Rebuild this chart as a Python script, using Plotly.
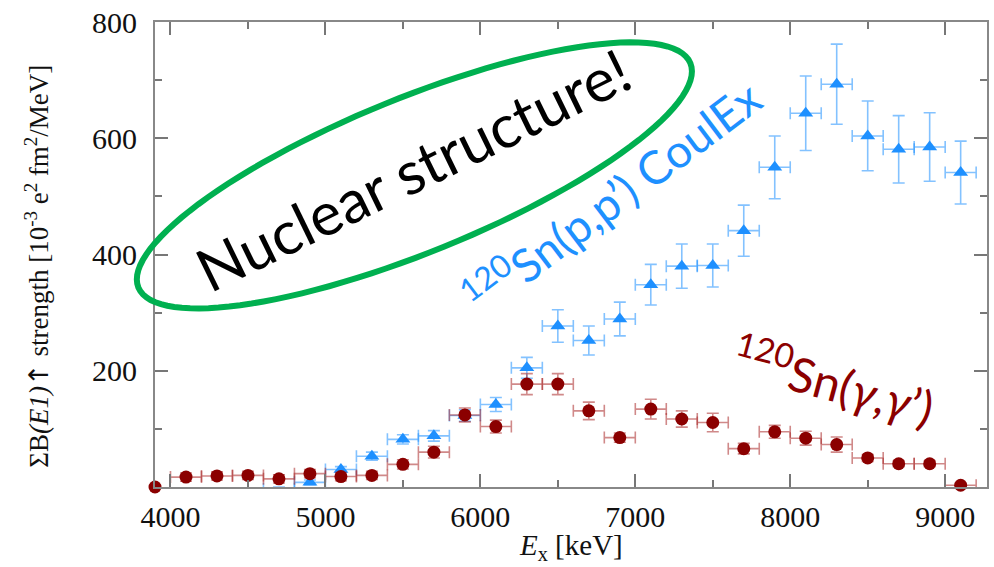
import numpy as np
import plotly.graph_objects as go

# ---------------- data ----------------
ex_gamma = [3900, 4100, 4300, 4500, 4700, 4900, 5100, 5300, 5500, 5700, 5900, 6100, 6300, 6500,
            6700, 6900, 7100, 7300, 7500, 7700, 7900, 8100, 8300, 8500, 8700, 8900, 9100]
b_gamma = [0, 17, 19, 20, 14, 23, 18, 20, 39, 60, 124, 104, 177, 177,
           131, 85, 134, 117, 111, 66, 95, 84, 73, 50, 40, 40, 3]
db_gamma = [3, 7, 7, 7, 7, 7, 7, 7, 8, 10, 12, 11, 18, 18,
            15, 8, 17, 14, 16, 9, 11, 12, 13, 6, 5, 5, 3]
dex_gamma = [0] + [100] * 26

ex_pp = [4700, 4900, 5100, 5300, 5500, 5700, 5900, 6100, 6300, 6500, 6700, 6900,
         7100, 7300, 7500, 7700, 7900, 8100, 8300, 8500, 8700, 8900, 9100]
b_pp = [-3, 8, 30, 53, 82, 88, 123, 142, 205, 277, 252, 289,
        348, 380, 381, 441, 550, 643, 693, 604, 581, 585, 541]
db_pp = [3, 4, 5, 7, 8, 9, 10, 12, 18, 28, 25, 29,
         35, 38, 37, 44, 54, 64, 69, 60, 58, 59, 54]
dex_pp = [100] * 23

x_ticks = [4000, 5000, 6000, 7000, 8000, 9000]
y_ticks = [200, 400, 600, 800]
x_range = [3900, 9270]
y_range = [0, 800]

# ---------------- layout geometry (pixels) ----------------
W, H = 994, 567
ML, MR, MT, MB = 155, 5, 17, 80
PW, PH = W - ML - MR, H - MT - MB


def px2paper(px, py):
    return (px - ML) / PW, (H - MB - py) / PH


serif = "Liberation Serif"
sans = "Lato"

fig = go.Figure()

fig.add_trace(go.Scatter(
    x=ex_pp, y=b_pp, mode="markers",
    marker=dict(symbol="triangle-up", size=13, color="#1E90FF"),
    error_y=dict(type="data", array=db_pp, color="rgba(30,144,255,0.55)", thickness=1.6, width=6),
    error_x=dict(type="data", array=dex_pp, color="rgba(30,144,255,0.55)", thickness=1.6, width=6),
    cliponaxis=True, showlegend=False,
))

fig.add_trace(go.Scatter(
    x=ex_gamma, y=b_gamma, mode="markers",
    marker=dict(symbol="circle", size=13, color="#8B0000"),
    error_y=dict(type="data", array=db_gamma, color="rgba(170,40,40,0.55)", thickness=1.6, width=6),
    error_x=dict(type="data", array=dex_gamma, color="rgba(170,40,40,0.55)", thickness=1.6, width=6),
    cliponaxis=False, showlegend=False,
))

axis_common = dict(
    showline=True, linecolor="#888", linewidth=2, mirror="ticks",
    ticks="inside", ticklen=13, tickwidth=1.5, tickcolor="#777",
    showgrid=False, zeroline=False,
    tickfont=dict(family=serif, size=30, color="#111"),
)

fig.update_xaxes(range=x_range, tickvals=x_ticks, ticktext=[str(v) for v in x_ticks],
                 minor=dict(ticks="inside", ticklen=7, tickwidth=1.5, tickcolor="#777", dtick=500, tick0=0),
                 ticklabelstandoff=2, **axis_common)
fig.update_yaxes(range=y_range, tickvals=y_ticks, ticktext=[str(v) for v in y_ticks],
                 minor=dict(ticks="inside", ticklen=7, tickwidth=1.5, tickcolor="#777", dtick=100, tick0=0),
                 ticklabelstandoff=10, **axis_common)

annotations = []
# axis titles
xt, yt = px2paper(572, 548)
annotations.append(dict(text="<i>E</i><sub>x</sub> [keV]", xref="paper", yref="paper", x=xt, y=yt,
                        xanchor="center", yanchor="middle", showarrow=False,
                        font=dict(family=serif, size=29, color="#111")))
xt, yt = px2paper(37, 264)
annotations.append(dict(text="ΣB<i>(E1)</i><span style='font-family:DejaVu Sans'>↑</span> strength "
                             "[10<sup>-3</sup> e<sup>2</sup> fm<sup>2</sup>/MeV]",
                        xref="paper", yref="paper", x=xt, y=yt, textangle=-90,
                        xanchor="center", yanchor="middle", showarrow=False,
                        font=dict(family=serif, size=27, color="#111")))
# overlay texts
xt, yt = px2paper(414, 166)
annotations.append(dict(text="Nuclear structure!", xref="paper", yref="paper", x=xt, y=yt, textangle=-26,
                        xanchor="center", yanchor="middle", showarrow=False,
                        font=dict(family=sans, size=60, color="black")))
xt, yt = px2paper(612, 192)
annotations.append(dict(text="<sup>120</sup>Sn(p,p’) CoulEx", xref="paper", yref="paper", x=xt, y=yt,
                        textangle=-37, xanchor="center", yanchor="middle", showarrow=False,
                        font=dict(family=sans, size=46, color="#1E90FF")))
xt, yt = px2paper(836, 378)
annotations.append(dict(text="<sup>120</sup>Sn(<i>γ</i>,<i>γ</i>’)", xref="paper", yref="paper", x=xt, y=yt,
                        textangle=15, xanchor="center", yanchor="middle", showarrow=False,
                        font=dict(family=sans, size=48, color="#8B0000")))

# green ellipse (pixel parameters -> paper path)
cx, cy, ea, eb, th = 415, 172, 299, 78, np.deg2rad(22.3)
t = np.linspace(0, 2 * np.pi, 121)
ex = cx + ea * np.cos(t) * np.cos(th) - eb * np.sin(t) * np.sin(th)
ey = cy - (ea * np.cos(t) * np.sin(th) + eb * np.sin(t) * np.cos(th))
pts = [px2paper(a, b) for a, b in zip(ex, ey)]
path = "M " + " L ".join(f"{a:.5f},{b:.5f}" for a, b in pts) + " Z"

fig.update_layout(
    width=W, height=H,
    margin=dict(l=ML, r=MR, t=MT, b=MB, pad=0),
    paper_bgcolor="white", plot_bgcolor="white",
    annotations=annotations,
    shapes=[dict(type="path", path=path, xref="paper", yref="paper",
                 line=dict(color="#00B050", width=6), layer="above")],
)

fig.write_html("out.html", config={"displayModeBar": False},
               post_script="document.body.style.margin='0';document.body.style.overflow='hidden';")
